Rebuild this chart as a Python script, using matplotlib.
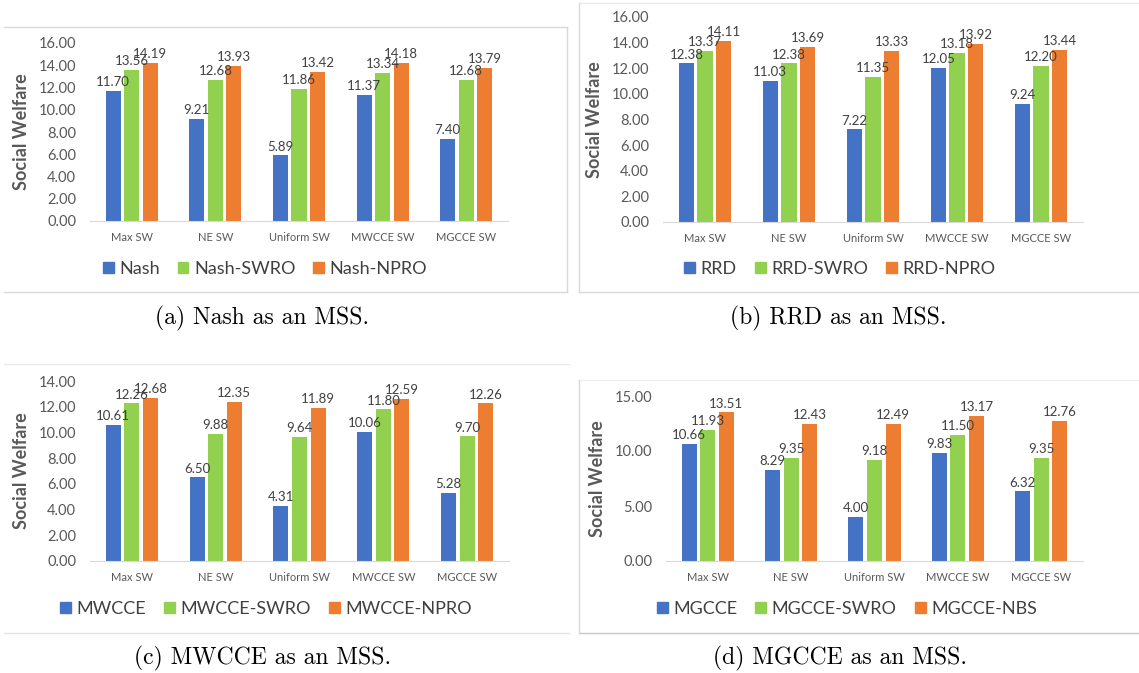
import matplotlib.pyplot as plt
from matplotlib.lines import Line2D
from matplotlib.patches import Patch

categories = ['Max SW', 'NE SW', 'Uniform SW', 'MWCCE SW', 'MGCCE SW']

# panel (a) Nash
nash = [11.70, 9.21, 5.89, 11.37, 7.40]
nash_swro = [13.56, 12.68, 11.86, 13.34, 12.68]
nash_npro = [14.19, 13.93, 13.42, 14.18, 13.79]
# panel (b) RRD
rrd = [12.38, 11.03, 7.22, 12.05, 9.24]
rrd_swro = [13.37, 12.38, 11.35, 13.18, 12.20]
rrd_npro = [14.11, 13.69, 13.33, 13.92, 13.44]
# panel (c) MWCCE
mwcce = [10.61, 6.50, 4.31, 10.06, 5.28]
mwcce_swro = [12.26, 9.88, 9.64, 11.80, 9.70]
mwcce_npro = [12.68, 12.35, 11.89, 12.59, 12.26]
# panel (d) MGCCE
mgcce = [10.66, 8.29, 4.00, 9.83, 6.32]
mgcce_swro = [11.93, 9.35, 9.18, 11.50, 9.35]
mgcce_nbs = [13.51, 12.43, 12.49, 13.17, 12.76]

colors = ['#4472C4', '#92D050', '#ED7D31']
W, H = 1139, 673

fig = plt.figure(figsize=(W / 100, H / 100), dpi=100)
plt.rcParams['font.family'] = ['Lato', 'DejaVu Sans']


def px_axes(left, top, right, bottom):
    return fig.add_axes([left / W, 1 - bottom / H, (right - left) / W, (bottom - top) / H])


def hline(x0, x1, y, c='#D9D9D9'):
    fig.add_artist(Line2D([x0 / W, x1 / W], [1 - y / H, 1 - y / H], color=c, lw=1))


def vline(x, y0, y1, c='#D9D9D9'):
    fig.add_artist(Line2D([x / W, x / W], [1 - y0 / H, 1 - y1 / H], color=c, lw=1))


def panel(box, series, names, ymax, ystep, legend_xy, caption, caption_xy):
    ax = px_axes(*box)
    x = range(len(categories))
    offs = [-0.222, 0, 0.222]
    for s, vals, c in zip(range(3), series, colors):
        xs = [i + offs[s] for i in x]
        bars = ax.bar(xs, vals, width=0.18, color=c, label=names[s])
        ax.bar_label(bars, labels=['%.2f' % v for v in vals], padding=2,
                     fontsize=9.5, color='#404040')
    ax.set_xlim(-0.5, len(categories) - 0.5)
    ax.set_ylim(0, ymax)
    n = int(round(ymax / ystep)) + 1
    ax.set_yticks([ystep * i for i in range(n)])
    ax.set_yticklabels(['%.2f' % (ystep * i) for i in range(n)])
    ax.set_xticks(list(x))
    ax.set_xticklabels(categories)
    ax.tick_params(axis='y', length=0, pad=10, labelsize=10.5, labelcolor='#595959')
    ax.tick_params(axis='x', length=0, pad=8, labelsize=8, labelcolor='#595959')
    for sp in ['top', 'right', 'left']:
        ax.spines[sp].set_visible(False)
    ax.spines['bottom'].set_color('#D9D9D9')
    ax.set_ylabel('Social Welfare', fontsize=13, fontweight='bold', color='#595959', labelpad=6)
    handles = [Patch(color=c) for c in colors]
    fig.legend(handles, names, loc='center', ncol=3, frameon=False,
               bbox_to_anchor=(legend_xy[0] / W, 1 - legend_xy[1] / H),
               fontsize=13, handlelength=0.6, handleheight=0.6,
               handletextpad=0.3, columnspacing=1.0, labelcolor='#404040')
    fig.text(caption_xy[0] / W, 1 - caption_xy[1] / H, caption, ha='center', va='center',
             fontsize=17, family='cmr10')
    return ax


panel((90, 43, 508, 221), [nash, nash_swro, nash_npro], ['Nash', 'Nash-SWRO', 'Nash-NPRO'],
      16, 2, (265, 269), '(a) Nash as an MSS.', (262, 318))
panel((663, 17, 1083, 222), [rrd, rrd_swro, rrd_npro], ['RRD', 'RRD-SWRO', 'RRD-NPRO'],
      16, 2, (840, 269), '(b) RRD as an MSS.', (838, 318))
panel((90, 381, 509, 561), [mwcce, mwcce_swro, mwcce_npro], ['MWCCE', 'MWCCE-SWRO', 'MWCCE-NPRO'],
      14, 2, (266, 609), '(c) MWCCE as an MSS.', (263, 658))
panel((666, 396, 1083, 561), [mgcce, mgcce_swro, mgcce_nbs], ['MGCCE', 'MGCCE-SWRO', 'MGCCE-NBS'],
      15, 5, (847, 609), '(d) MGCCE as an MSS.', (840, 658))

# panel frames
hline(4, 567, 27)
hline(4, 567, 292)
vline(567, 27, 292)
hline(579, 1139, 3, '#EBEBEB')
hline(579, 1139, 292)
vline(579, 3, 292)
hline(4, 569, 364, '#EBEBEB')
hline(4, 569, 633, '#E3E3E3')
hline(579, 1139, 380, '#F0F0F0')
hline(579, 1139, 633, '#C8C8C8')
vline(579, 380, 633)

fig.savefig('out.png', dpi=100)
